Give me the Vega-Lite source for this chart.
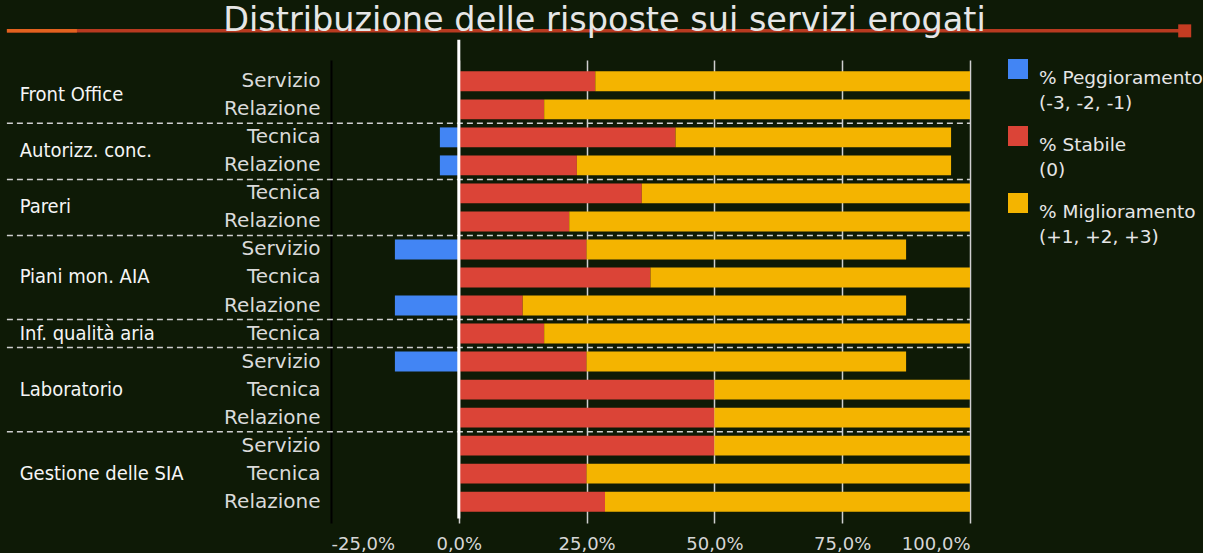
{
  "$schema": "https://vega.github.io/schema/vega-lite/v6.json",
  "width": 639,
  "height": 463,
  "padding": {"left": 5, "top": 3, "right": 0, "bottom": 0},
  "background": "#0e1a06",
  "title": {
    "text": "Distribuzione delle risposte sui servizi erogati",
    "font": "DejaVu Sans",
    "fontWeight": 400,
    "fontSize": 33.5,
    "color": "#e6e6e6",
    "anchor": "middle",
    "frame": "group",
    "dx": -46,
    "offset": -14
  },
  "datasets": {
    "one": [{}],
    "bars": [
      {"id": "Front Office|Servizio", "cat": "% Stabile (0)", "value": 26.7},
      {"id": "Front Office|Servizio", "cat": "% Miglioramento (+1, +2, +3)", "value": 73.3},
      {"id": "Front Office|Relazione", "cat": "% Stabile (0)", "value": 16.7},
      {"id": "Front Office|Relazione", "cat": "% Miglioramento (+1, +2, +3)", "value": 83.3},
      {"id": "Autorizz. conc.|Tecnica", "cat": "% Peggioramento (-3, -2, -1)", "value": -3.7},
      {"id": "Autorizz. conc.|Tecnica", "cat": "% Stabile (0)", "value": 42.4},
      {"id": "Autorizz. conc.|Tecnica", "cat": "% Miglioramento (+1, +2, +3)", "value": 53.9},
      {"id": "Autorizz. conc.|Relazione", "cat": "% Peggioramento (-3, -2, -1)", "value": -3.7},
      {"id": "Autorizz. conc.|Relazione", "cat": "% Stabile (0)", "value": 23.1},
      {"id": "Autorizz. conc.|Relazione", "cat": "% Miglioramento (+1, +2, +3)", "value": 73.2},
      {"id": "Pareri|Tecnica", "cat": "% Stabile (0)", "value": 35.8},
      {"id": "Pareri|Tecnica", "cat": "% Miglioramento (+1, +2, +3)", "value": 64.2},
      {"id": "Pareri|Relazione", "cat": "% Stabile (0)", "value": 21.6},
      {"id": "Pareri|Relazione", "cat": "% Miglioramento (+1, +2, +3)", "value": 78.4},
      {"id": "Piani mon. AIA|Servizio", "cat": "% Peggioramento (-3, -2, -1)", "value": -12.5},
      {"id": "Piani mon. AIA|Servizio", "cat": "% Stabile (0)", "value": 25},
      {"id": "Piani mon. AIA|Servizio", "cat": "% Miglioramento (+1, +2, +3)", "value": 62.5},
      {"id": "Piani mon. AIA|Tecnica", "cat": "% Stabile (0)", "value": 37.5},
      {"id": "Piani mon. AIA|Tecnica", "cat": "% Miglioramento (+1, +2, +3)", "value": 62.5},
      {"id": "Piani mon. AIA|Relazione", "cat": "% Peggioramento (-3, -2, -1)", "value": -12.5},
      {"id": "Piani mon. AIA|Relazione", "cat": "% Stabile (0)", "value": 12.5},
      {"id": "Piani mon. AIA|Relazione", "cat": "% Miglioramento (+1, +2, +3)", "value": 75},
      {"id": "Inf. qualità aria|Tecnica", "cat": "% Stabile (0)", "value": 16.7},
      {"id": "Inf. qualità aria|Tecnica", "cat": "% Miglioramento (+1, +2, +3)", "value": 83.3},
      {"id": "Laboratorio|Servizio", "cat": "% Peggioramento (-3, -2, -1)", "value": -12.5},
      {"id": "Laboratorio|Servizio", "cat": "% Stabile (0)", "value": 25},
      {"id": "Laboratorio|Servizio", "cat": "% Miglioramento (+1, +2, +3)", "value": 62.5},
      {"id": "Laboratorio|Tecnica", "cat": "% Stabile (0)", "value": 50},
      {"id": "Laboratorio|Tecnica", "cat": "% Miglioramento (+1, +2, +3)", "value": 50},
      {"id": "Laboratorio|Relazione", "cat": "% Stabile (0)", "value": 50},
      {"id": "Laboratorio|Relazione", "cat": "% Miglioramento (+1, +2, +3)", "value": 50},
      {"id": "Gestione delle SIA|Servizio", "cat": "% Stabile (0)", "value": 50},
      {"id": "Gestione delle SIA|Servizio", "cat": "% Miglioramento (+1, +2, +3)", "value": 50},
      {"id": "Gestione delle SIA|Tecnica", "cat": "% Stabile (0)", "value": 25},
      {"id": "Gestione delle SIA|Tecnica", "cat": "% Miglioramento (+1, +2, +3)", "value": 75},
      {"id": "Gestione delle SIA|Relazione", "cat": "% Stabile (0)", "value": 28.6},
      {"id": "Gestione delle SIA|Relazione", "cat": "% Miglioramento (+1, +2, +3)", "value": 71.4}
    ],
    "separators": [
      {"id": "Autorizz. conc.|Tecnica"},
      {"id": "Pareri|Tecnica"},
      {"id": "Piani mon. AIA|Servizio"},
      {"id": "Inf. qualità aria|Tecnica"},
      {"id": "Laboratorio|Servizio"},
      {"id": "Gestione delle SIA|Servizio"}
    ],
    "groupsEven": [
      {"label": "Front Office", "id": "Front Office|Servizio"},
      {"label": "Autorizz. conc.", "id": "Autorizz. conc.|Tecnica"},
      {"label": "Pareri", "id": "Pareri|Tecnica"}
    ],
    "groupsOdd": [
      {"label": "Piani mon. AIA", "id": "Piani mon. AIA|Tecnica"},
      {"label": "Inf. qualità aria", "id": "Inf. qualità aria|Tecnica"},
      {"label": "Laboratorio", "id": "Laboratorio|Tecnica"},
      {"label": "Gestione delle SIA", "id": "Gestione delle SIA|Tecnica"}
    ]
  },
  "layer": [
    {
      "data": {"name": "bars"},
      "mark": {"type": "bar", "height": {"band": 0.71}},
      "encoding": {
        "y": {
          "field": "id", "type": "nominal",
          "scale": {"domain": ["Front Office|Servizio", "Front Office|Relazione", "Autorizz. conc.|Tecnica", "Autorizz. conc.|Relazione", "Pareri|Tecnica", "Pareri|Relazione", "Piani mon. AIA|Servizio", "Piani mon. AIA|Tecnica", "Piani mon. AIA|Relazione", "Inf. qualità aria|Tecnica", "Laboratorio|Servizio", "Laboratorio|Tecnica", "Laboratorio|Relazione", "Gestione delle SIA|Servizio", "Gestione delle SIA|Tecnica", "Gestione delle SIA|Relazione"], "paddingInner": 0, "paddingOuter": 0.26},
          "axis": {
            "title": null, "ticks": false, "domain": false,
            "labelExpr": "split(datum.value, '|')[1]",
            "labelFont": "DejaVu Sans", "labelFontSize": 20, "labelColor": "#dadada",
            "labelPadding": 11
          }
        },
        "x": {
          "field": "value", "type": "quantitative", "stack": "zero",
          "scale": {"domain": [-25, 100], "nice": false, "zero": false},
          "axis": {
            "title": null, "values": [-25, 0, 25, 50, 75, 100], "ticks": false, "domain": false,
            "grid": true,
            "gridColor": {"condition": {"test": "datum.value === -25", "value": "#000000"}, "value": "#cfcfcf"},
            "gridWidth": {"condition": {"test": "datum.value === -25", "value": 2}, "value": 1.5},
            "labelExpr": "(datum.value < 0 ? '-' : '') + replace(format(abs(datum.value), '.1f'), '.', ',') + '%'",
            "labelFont": "DejaVu Sans", "labelFontSize": 18, "labelColor": "#d6d6d6",
            "labelPadding": 12
          }
        },
        "color": {
          "field": "cat", "type": "nominal",
          "scale": {"domain": ["% Peggioramento (-3, -2, -1)", "% Stabile (0)", "% Miglioramento (+1, +2, +3)"], "range": ["#4285f4", "#db4437", "#f4b400"]},
          "legend": {
            "orient": "none", "legendX": 677, "legendY": -1, "title": null,
            "symbolType": "square", "symbolSize": 400, "symbolStrokeWidth": 0,
            "labelExpr": "split(replace(datum.label, ' (', '|('), '|')",
            "labelFont": "DejaVu Sans", "labelFontSize": 18.5, "labelColor": "#e6e6e6",
            "labelBaseline": "top",
            "labelOffset": 11, "rowPadding": 13, "labelLimit": 400
          }
        },
        "order": {"field": "cat", "sort": "descending"}
      }
    },
    {
      "data": {"name": "separators"},
      "mark": {"type": "rule", "color": "#cfcfcf", "strokeWidth": 1.5, "strokeDash": [6, 4]},
      "encoding": {
        "y": {"field": "id", "type": "nominal", "bandPosition": 0},
        "x": {"datum": -88.4},
        "x2": {"datum": 100}
      }
    },
    {
      "data": {"name": "one"},
      "mark": {"type": "rule", "color": "#ffffff", "strokeWidth": 3},
      "encoding": {
        "x": {"datum": 0},
        "y": {"datum": "Front Office|Servizio", "bandPosition": -0.98},
        "y2": {"datum": "Gestione delle SIA|Relazione", "bandPosition": 1.1}
      }
    },
    {
      "data": {"name": "one"},
      "mark": {"type": "rule", "color": "#b83a20", "strokeWidth": 3.5},
      "encoding": {
        "x": {"datum": -88.4},
        "x2": {"datum": 142.4},
        "y": {"datum": "Front Office|Servizio", "bandPosition": -1.3}
      }
    },
    {
      "data": {"name": "one"},
      "mark": {"type": "rule", "color": "#e2621f", "strokeWidth": 3.5},
      "encoding": {
        "x": {"datum": -88.4},
        "x2": {"datum": -74.7},
        "y": {"datum": "Front Office|Servizio", "bandPosition": -1.3}
      }
    },
    {
      "data": {"name": "one"},
      "mark": {"type": "square", "color": "#c43c22", "filled": true, "opacity": 1, "size": 169},
      "encoding": {
        "x": {"datum": 142},
        "y": {"datum": "Front Office|Servizio", "bandPosition": -1.3}
      }
    },
    {
      "data": {"name": "groupsEven"},
      "mark": {"type": "text", "align": "left", "baseline": "middle", "font": "DejaVu Sans Condensed", "fontSize": 20, "color": "#f5f5f5"},
      "encoding": {
        "y": {"field": "id", "type": "nominal", "bandPosition": 1},
        "x": {"datum": -85.9},
        "text": {"field": "label"}
      }
    },
    {
      "data": {"name": "groupsOdd"},
      "mark": {"type": "text", "align": "left", "baseline": "middle", "font": "DejaVu Sans Condensed", "fontSize": 20, "color": "#f5f5f5"},
      "encoding": {
        "y": {"field": "id", "type": "nominal", "bandPosition": 0.5},
        "x": {"datum": -85.9},
        "text": {"field": "label"}
      }
    }
  ],
  "config": {
    "view": {"stroke": null},
    "style": {"guide-label": {"lineHeight": 25}}
  }
}
